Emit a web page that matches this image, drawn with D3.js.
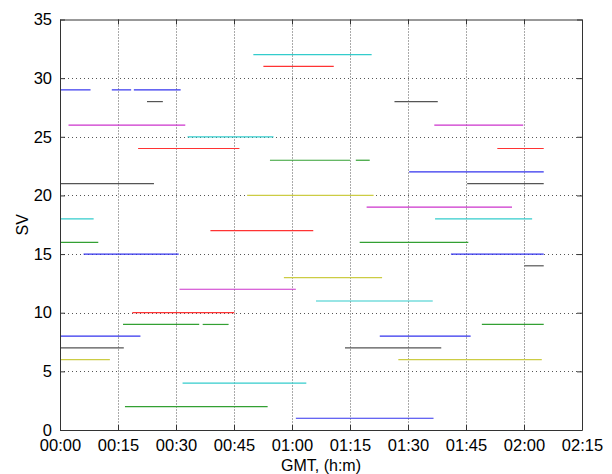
<!DOCTYPE html>
<html lang="en">
<head>
<meta charset="utf-8">
<title>SV visibility</title>
<script src="https://d3js.org/d3.v7.min.js"></script>
<style>
  body { margin: 0; background: #fff; }
  svg { display: block; }
  text { font-family: "Liberation Sans", Arial, sans-serif; fill: #000; }
</style>
</head>
<body>
<script>
// one entry per visible pass: satellite number, start and end (minutes after 00:00 GMT)
const passSV    = [1, 2, 4, 6, 6, 7, 7, 8, 8, 9, 9, 9, 10, 11, 12, 13, 14, 15, 15, 16, 16, 17, 18, 18,
                   19, 20, 21, 21, 22, 23, 23, 24, 24, 25, 26, 26, 28, 28, 29, 29, 29, 31, 32];
const passStart = [61.0, 16.8, 31.7, 0, 87.5, 0, 73.7, 0, 82.7, 16.3, 36.9, 109.1, 18.7, 66.2, 30.9, 57.9, 120.1, 6.1, 101.1, 0, 77.5, 38.9, 0, 97.0,
                   79.3, 48.4, 0, 105.3, 90.3, 54.3, 76.5, 20.2, 113.1, 33.0, 2.2, 96.8, 22.5, 86.5, 0, 13.4, 19.1, 52.6, 50.0];
const passEnd   = [96.6, 53.7, 63.7, 12.9, 124.6, 16.5, 98.6, 20.8, 106.2, 36.0, 43.6, 125.1, 45.1, 96.4, 61.0, 83.3, 125.1, 30.7, 125.1, 9.9, 105.6, 65.5, 8.7, 122.1,
                   116.9, 81.1, 24.3, 125.1, 125.1, 75.0, 80.1, 46.4, 125.1, 55.2, 32.4, 119.8, 26.6, 97.7, 7.9, 18.4, 31.2, 70.8, 80.6];

// colour order b g r c m y k, picked by satellite number
const colorCycle = ["#3333ee", "#33a033", "#ff3333", "#33cccc", "#cc33cc", "#cccc44", "#555555"];

const xTicks = d3.range(0, 136, 15);   // minutes
const yTicks = d3.range(0, 36, 5);

const W = 612, H = 474;
const mLeft = 60, mRight = 582, mTop = 19.5, mBottom = 430;

const x = d3.scaleLinear().domain([0, 135]).range([mLeft, mRight]);
const y = d3.scaleLinear().domain([0, 35]).range([mBottom, mTop]);

const fmt = m => d3.format("02d")(Math.floor(m / 60)) + ":" + d3.format("02d")(m % 60);

const svg = d3.select("body").append("svg")
    .attr("width", W)
    .attr("height", H);

svg.append("rect").attr("width", W).attr("height", H).attr("fill", "#fff");

// dotted grid
svg.append("g")
  .selectAll("line")
  .data(xTicks.slice(1, -1))
  .join("line")
    .attr("x1", d => x(d) + 0.5).attr("x2", d => x(d) + 0.5)
    .attr("y1", mTop).attr("y2", mBottom)
    .attr("stroke", "#555").attr("stroke-dasharray", "1,2");

svg.append("g")
  .selectAll("line")
  .data(yTicks.slice(1, -1))
  .join("line")
    .attr("x1", mLeft).attr("x2", mRight)
    .attr("y1", d => Math.round(y(d)) + 0.5).attr("y2", d => Math.round(y(d)) + 0.5)
    .attr("stroke", "#555").attr("stroke-dasharray", "1,3");

// passes
svg.append("g")
  .selectAll("line")
  .data(d3.range(passSV.length))
  .join("line")
    .attr("x1", i => x(passStart[i]))
    .attr("x2", i => x(passEnd[i]))
    .attr("y1", i => y(passSV[i]))
    .attr("y2", i => y(passSV[i]))
    .attr("stroke", i => colorCycle[(passSV[i] - 1) % 7])
    .attr("stroke-width", 1.2);

// axes: ticks inside, box all round
const xAxis = d3.axisBottom(x).tickValues(xTicks).tickFormat(fmt).tickSizeInner(-5).tickSizeOuter(0).tickPadding(9);
const yAxis = d3.axisLeft(y).tickValues(yTicks).tickSizeInner(-5).tickSizeOuter(0).tickPadding(8);

const gx = svg.append("g").attr("transform", `translate(0,${mBottom})`).call(xAxis);
const gy = svg.append("g").attr("transform", `translate(${mLeft},0)`).call(yAxis);
svg.append("g").attr("transform", `translate(0,${mTop})`)
    .call(d3.axisTop(x).tickValues(xTicks).tickFormat("").tickSizeInner(-5).tickSizeOuter(0));
svg.append("g").attr("transform", `translate(${mRight},0)`)
    .call(d3.axisRight(y).tickValues(yTicks).tickFormat("").tickSizeInner(-5).tickSizeOuter(0));

svg.selectAll(".domain").attr("stroke", "#333");
svg.selectAll(".tick line").attr("stroke", "#333");
gx.selectAll("text").style("font-size", "16.5px").attr("fill", "#000");
gy.selectAll("text").style("font-size", "16.5px").attr("fill", "#000");

svg.append("text")
    .attr("x", (mLeft + mRight) / 2)
    .attr("y", 471)
    .attr("text-anchor", "middle")
    .style("font-size", "16px")
    .text("GMT, (h:m)");

svg.append("text")
    .attr("transform", `translate(28,${(mTop + mBottom) / 2}) rotate(-90)`)
    .attr("text-anchor", "middle")
    .style("font-size", "16px")
    .text("SV");
</script>
</body>
</html>
